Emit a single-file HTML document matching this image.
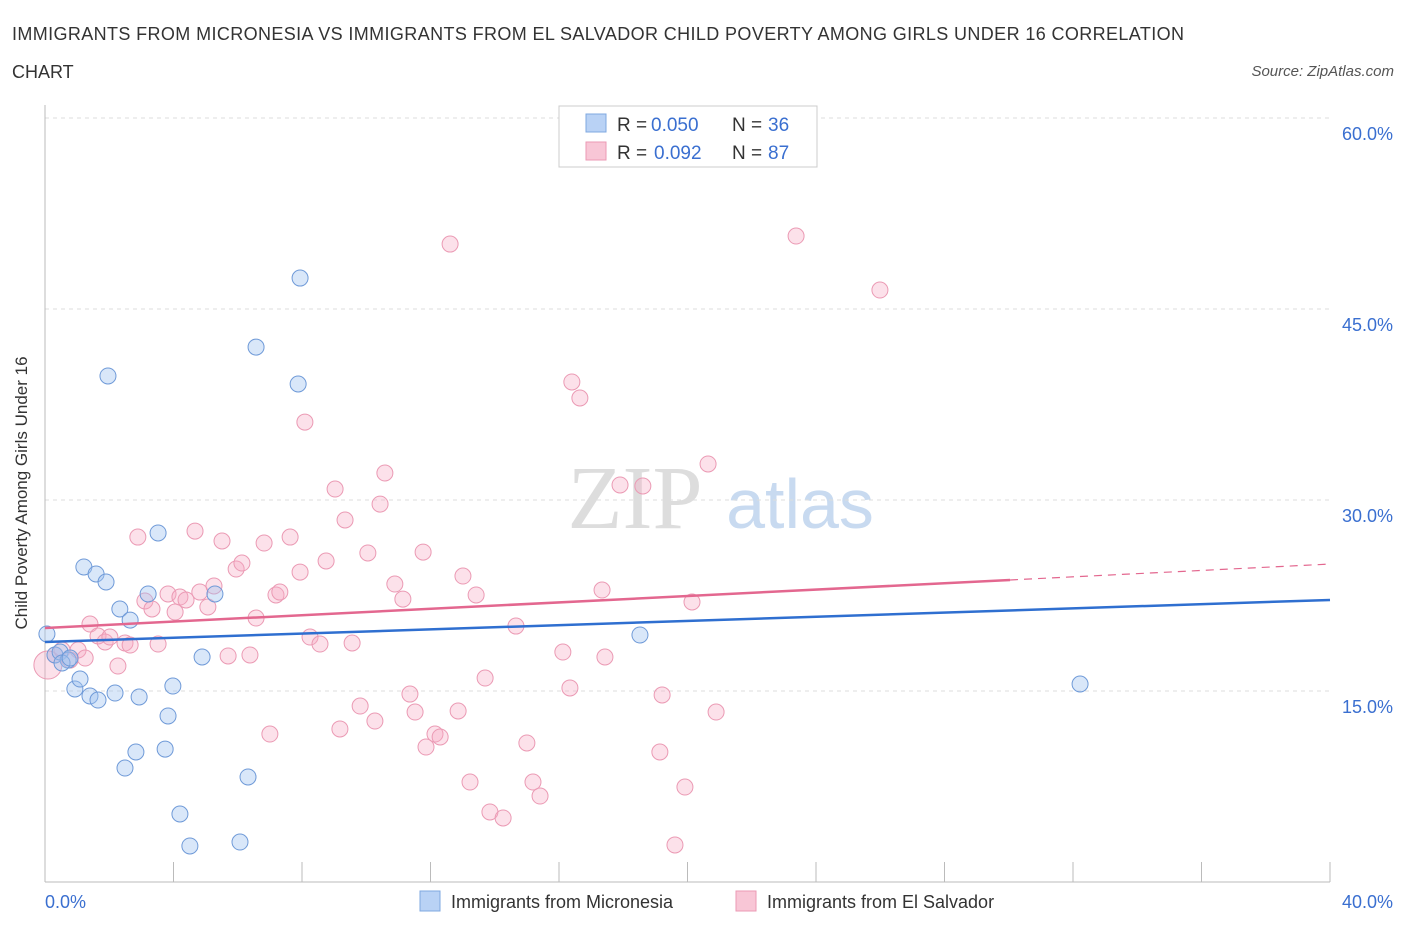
<!DOCTYPE html>
<html><head><meta charset="utf-8"><style>
body{margin:0;background:#fff;font-family:"Liberation Sans",sans-serif;}
</style></head><body>
<svg width="1406" height="930" xmlns="http://www.w3.org/2000/svg">
<text x="12" y="40" font-size="18" fill="#333" letter-spacing="0.38">IMMIGRANTS FROM MICRONESIA VS IMMIGRANTS FROM EL SALVADOR CHILD POVERTY AMONG GIRLS UNDER 16 CORRELATION</text>
<text x="12" y="78" font-size="18" fill="#333">CHART</text>
<text x="1394" y="76" font-size="15" fill="#555" font-style="italic" text-anchor="end">Source: ZipAtlas.com</text>
<text x="635" y="528" font-size="90" fill="#ddd" font-family="Liberation Serif" text-anchor="middle">ZIP</text>
<text x="800" y="528" font-size="70" fill="#c8daf0" text-anchor="middle">atlas</text>
<g id="grid"></g><g id="axes"></g><g id="marks"></g>
<text x="27" y="493" font-size="17" fill="#333" text-anchor="middle" transform="rotate(-90 27 493)">Child Poverty Among Girls Under 16</text>
<g>
<rect x="559" y="106" width="258" height="61" fill="#fff" stroke="#ccc"/>
<rect x="586" y="114" width="20" height="18" fill="#b9d2f5" stroke="#7fa8e0"/>
<text x="617" y="131" font-size="19" fill="#333">R =</text>
<text x="651" y="131" font-size="19" fill="#3a6fd0">0.050</text>
<text x="732" y="131" font-size="19" fill="#333">N =</text>
<text x="768" y="131" font-size="19" fill="#3a6fd0">36</text>
<rect x="586" y="142" width="20" height="18" fill="#f8c6d6" stroke="#eb9ab4"/>
<text x="617" y="159" font-size="19" fill="#333">R =</text>
<text x="654" y="159" font-size="19" fill="#3a6fd0">0.092</text>
<text x="732" y="159" font-size="19" fill="#333">N =</text>
<text x="768" y="159" font-size="19" fill="#3a6fd0">87</text>
</g>
<g>
<rect x="420" y="891" width="20" height="20" fill="#b9d2f5" stroke="#7fa8e0"/>
<text x="451" y="908" font-size="18" fill="#333">Immigrants from Micronesia</text>
<rect x="736" y="891" width="20" height="20" fill="#f8c6d6" stroke="#eb9ab4"/>
<text x="767" y="908" font-size="18" fill="#333">Immigrants from El Salvador</text>
</g>
</svg>
<script>
const yTicks=[15,30,45,60];
const yTickLabels=["15.0%","30.0%","45.0%","60.0%"];
const xEndLabels=["0.0%","40.0%"];
const blueX=[0.06,0.31,0.47,0.72,0.93,1.09,1.40,1.65,1.21,1.59,1.90,2.33,2.65,1.96,2.18,2.49,2.83,2.93,3.21,3.52,3.74,3.83,3.98,4.20,4.51,4.89,5.29,6.07,6.32,6.57,7.88,7.94,18.52,32.22,0.53,0.78];
const blueY=[19.48,17.83,18.06,17.43,15.16,15.94,14.61,14.29,24.74,24.19,23.56,21.44,20.57,39.74,14.84,8.95,10.21,14.53,22.62,27.41,10.44,13.04,15.39,5.34,2.83,17.67,22.62,3.14,8.25,42.01,39.11,47.43,19.40,15.55,17.20,17.59];
const pinkX=[0.09,0.31,0.53,0.78,1.03,1.25,1.40,1.65,1.87,2.02,2.27,2.49,2.65,2.89,3.11,3.33,3.52,3.83,4.05,4.20,4.39,4.67,4.82,5.07,5.26,5.51,5.70,5.95,6.13,6.38,6.57,6.82,7.00,7.19,7.31,7.63,7.94,8.09,8.25,8.56,8.75,9.03,9.18,9.34,9.56,9.81,10.05,10.27,10.58,10.43,10.89,11.14,11.36,11.52,11.77,11.86,12.14,12.30,12.61,12.86,13.01,13.23,13.42,13.70,13.85,14.26,14.66,15.00,15.19,15.41,16.12,16.34,16.40,16.65,17.34,17.43,17.90,18.61,19.14,19.21,19.61,19.92,20.14,20.64,20.89,23.38,25.99];
const pinkY=[17.04,17.83,18.22,17.43,18.22,17.59,20.26,19.32,18.85,19.24,16.96,18.77,18.61,27.09,22.07,21.44,18.69,22.62,21.20,22.38,22.15,27.56,22.77,21.60,23.25,26.78,17.75,24.58,25.05,17.83,20.73,26.62,11.62,22.54,22.77,27.09,24.34,36.12,19.24,18.69,25.21,30.86,12.02,28.43,18.77,13.82,25.84,12.64,32.12,29.68,23.40,22.22,14.76,13.35,25.91,10.60,11.62,11.39,50.10,13.43,24.03,7.85,22.54,16.02,5.50,5.03,20.10,10.92,7.85,6.75,18.06,15.24,39.27,38.01,22.93,17.67,31.18,31.10,10.21,14.69,2.91,7.46,21.99,32.83,13.35,50.73,46.49];
const blueTrend=[18.85,22.15];
const pinkTrend=[19.95,24.97];
const pinkSolidEnd=30.04;

const NS="http://www.w3.org/2000/svg";
const X=v=>45+v/40*1285, Y=v=>882-v/15*191;
function mk(tag,attrs,parent){const e=document.createElementNS(NS,tag);for(const k in attrs)e.setAttribute(k,attrs[k]);parent.appendChild(e);return e;}
const grid=document.getElementById('grid'),axes=document.getElementById('axes'),marks=document.getElementById('marks');
yTicks.forEach((t,i)=>{
 const l=mk('line',{x1:45,x2:1330,y1:Y(t),y2:Y(t),stroke:'#ddd','stroke-dasharray':'4,4'},grid);
 
 
 const tx=mk('text',{x:1393,y:Y(t)+22,'font-size':18,fill:'#3a6fd0','text-anchor':'end'},axes);
 tx.textContent=yTickLabels[i];
 
 
});
const ax=mk('line',{x1:45,x2:1330,y1:882,y2:882,stroke:'#bbb'},axes);


const ay=mk('line',{x1:45,x2:45,y1:105,y2:882,stroke:'#bbb'},axes);


for(let i=0;i<=10;i++){
 const t=mk('line',{x1:X(i*4),x2:X(i*4),y1:862,y2:882,stroke:'#bbb'},axes);
 
 
}
[[0,'start',45],[40,'end',1393]].forEach((d,i)=>{
 const t=mk('text',{x:d[2],y:908,'font-size':18,fill:'#3a6fd0','text-anchor':d[1]},axes);
 t.textContent=xEndLabels[i];
 
 
});
pinkX.forEach((x,i)=>{
 const c=mk('circle',{cx:X(x),cy:Y(pinkY[i]),r:i==0?14:8,fill:'rgba(245,170,195,0.35)',stroke:'#eb9ab4','stroke-width':1},marks);
 
 
});
blueX.forEach((x,i)=>{
 const c=mk('circle',{cx:X(x),cy:Y(blueY[i]),r:8,fill:'rgba(160,195,240,0.4)',stroke:'#6f9ad8','stroke-width':1},marks);
 
 
});
const bt=mk('line',{x1:X(0),y1:Y(blueTrend[0]),x2:X(40),y2:Y(blueTrend[1]),stroke:'#2f6fd0','stroke-width':2.5},marks);


const pe=pinkTrend[0]+(pinkTrend[1]-pinkTrend[0])*pinkSolidEnd/40;
const pt=mk('line',{x1:X(0),y1:Y(pinkTrend[0]),x2:X(pinkSolidEnd),y2:Y(pe),stroke:'#e3678f','stroke-width':2.5},marks);


const pd=mk('line',{x1:X(pinkSolidEnd),y1:Y(pe),x2:X(40),y2:Y(pinkTrend[1]),stroke:'#e3678f','stroke-width':1.2,'stroke-dasharray':'8,6'},marks);


</script>
</body></html>
